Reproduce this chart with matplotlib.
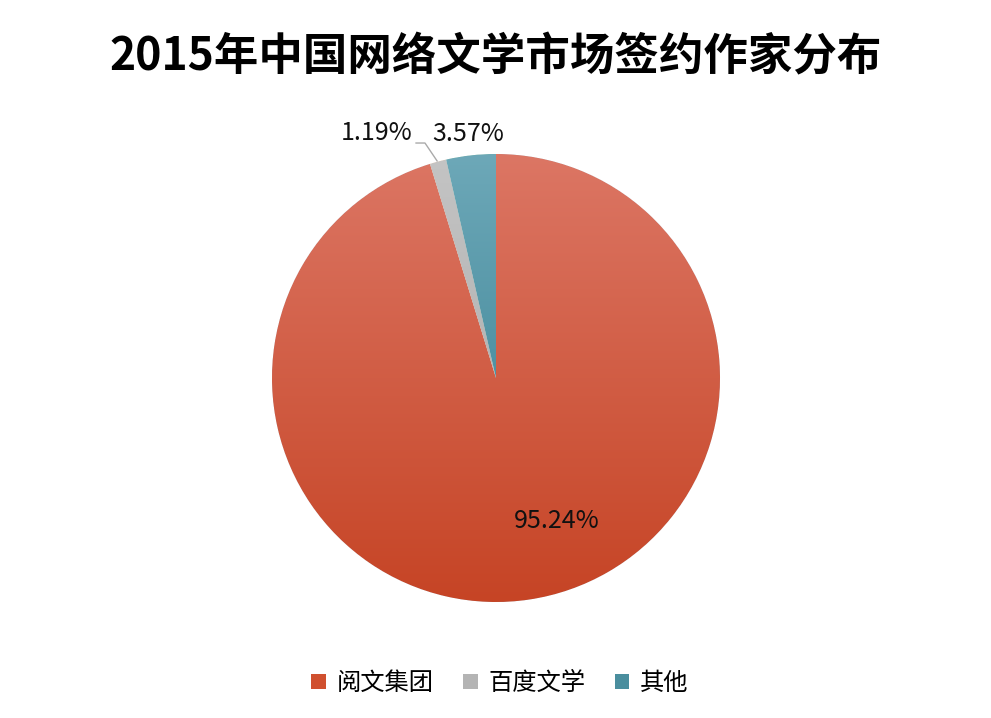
import numpy as np
import matplotlib
matplotlib.use("Agg")
import matplotlib.pyplot as plt
from matplotlib.patches import Patch
from matplotlib.colors import LinearSegmentedColormap

plt.rcParams['font.family'] = ['Noto Sans CJK SC', 'DejaVu Sans']

# données
labels = ["阅文集团", "百度文学", "其他"]
values = [95.24, 1.19, 3.57]
pct_text = ["95.24%", "1.19%", "3.57%"]
# couleurs (haut, bas) pour le dégradé vertical
grad_colors = [("#DC7664", "#C64425"), ("#C4C4C4", "#A4A4A4"), ("#6DA8B8", "#2F7A8C")]
legend_colors = ["#D0502F", "#B4B4B4", "#4A8E9E"]

fig = plt.figure(figsize=(9.91, 7.18), dpi=100)
ax = fig.add_axes([272 / 991, 116 / 718, 448 / 991, 448 / 718])

wedges, _ = ax.pie(values, startangle=90, counterclock=False, radius=1,
                   wedgeprops=dict(linewidth=0.6, edgecolor="white"))

# dégradé vertical sur chaque part
grad = np.linspace(1, 0, 256).reshape(-1, 1)
for w, (c_top, c_bot) in zip(wedges, grad_colors):
    cmap = LinearSegmentedColormap.from_list("g", [c_bot, c_top])
    im = ax.imshow(grad, extent=[-1, 1, -1, 1], origin="upper", cmap=cmap,
                   aspect="auto", zorder=w.get_zorder() + 0.1, vmin=0, vmax=1)
    im.set_clip_path(w)

ax.set_xlim(-1, 1)
ax.set_ylim(-1, 1)
ax.set_aspect("equal")
ax.axis("off")

# étiquettes de pourcentage
ax.text(0.27, -0.64, pct_text[0], ha="center", va="center", fontsize=18, color="#111111")
ax.text(-0.535, 1.094, pct_text[1], ha="center", va="center", fontsize=18, color="#111111")
ax.text(-0.122, 1.089, pct_text[2], ha="center", va="center", fontsize=18, color="#111111")
ax.plot([-0.357, -0.317, -0.263], [1.049, 1.049, 0.969], color="#AAAAAA", lw=1,
        clip_on=False)

fig.text(0.5, 1 - 57 / 718, "2015年中国网络文学市场签约作家分布", ha="center", va="center",
         fontsize=32, fontweight="bold", color="black")

handles = [Patch(facecolor=c, edgecolor="none") for c in legend_colors]
fig.legend(handles, labels, loc="center", bbox_to_anchor=(500 / 991, 1 - 683 / 718),
           ncol=3, frameon=False, fontsize=17.5, handlelength=0.6, handleheight=0.6,
           handletextpad=0.45, columnspacing=1.2)

fig.savefig("out.png", dpi=100)
